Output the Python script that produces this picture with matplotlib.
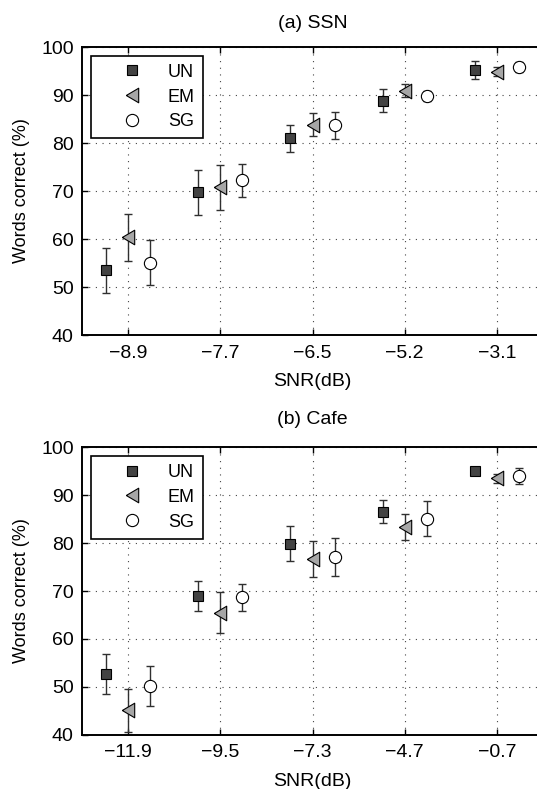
import matplotlib
matplotlib.use("Agg")
import matplotlib.pyplot as plt
import numpy as np

plt.rcParams['font.family'] = ['Liberation Sans', 'DejaVu Sans']

methods = ['UN', 'EM', 'SG']

# (a) speech-shaped noise
ssn_snr = ['\u22128.9', '\u22127.7', '\u22126.5', '\u22125.2', '\u22123.1']
ssn_un = [53.5, 69.7, 81.0, 88.8, 95.2]
ssn_un_err = [4.7, 4.7, 2.8, 2.4, 1.8]
ssn_em = [60.4, 70.8, 83.8, 90.9, 94.9]
ssn_em_err = [4.9, 4.7, 2.4, 1.4, 1.0]
ssn_sg = [55.1, 72.2, 83.7, 89.8, 95.8]
ssn_sg_err = [4.7, 3.5, 2.8, 1.0, 1.0]

# (b) cafe noise
cafe_snr = ['\u221211.9', '\u22129.5', '\u22127.3', '\u22124.7', '\u22120.7']
cafe_un = [52.7, 69.0, 79.9, 86.5, 95.1]
cafe_un_err = [4.2, 3.1, 3.6, 2.4, 0.5]
cafe_em = [45.1, 65.5, 76.7, 83.4, 93.5]
cafe_em_err = [4.5, 4.2, 3.75, 2.7, 1.0]
cafe_sg = [50.1, 68.7, 77.1, 85.1, 94.0]
cafe_sg_err = [4.2, 2.8, 3.9, 3.7, 1.6]

panels = [
    ('(a) SSN', ssn_snr, [(ssn_un, ssn_un_err), (ssn_em, ssn_em_err), (ssn_sg, ssn_sg_err)]),
    ('(b) Cafe', cafe_snr, [(cafe_un, cafe_un_err), (cafe_em, cafe_em_err), (cafe_sg, cafe_sg_err)]),
]

# left-pointing triangle, a little taller than wide
tri_left = [(-0.85, 0.0), (0.85, 1.0), (0.85, -1.0), (-0.85, 0.0)]

styles = [
    dict(marker='s', markersize=7.2, markerfacecolor='#434343', offset=-0.24),
    dict(marker=tri_left, markersize=10.5, markerfacecolor='#a6a6a6', offset=0.0),
    dict(marker='o', markersize=8.8, markerfacecolor='white', offset=0.24),
]

fig = plt.figure(figsize=(5.37, 7.89), dpi=100)
rects = [[0.1527, 0.5754, 0.8585, 0.365], [0.1527, 0.0688, 0.8585, 0.3643]]
title_pads = [13.5, 16.5]

for rect, tpad, (title, snr, series) in zip(rects, title_pads, panels):
    ax = fig.add_axes(rect)
    x = np.arange(1, len(snr) + 1)
    for name, (vals, errs), st in zip(methods, series, styles):
        ax.errorbar(x + st['offset'], vals, yerr=errs, fmt='none',
                    ecolor='#303030', elinewidth=1.0, capsize=3, capthick=1.0,
                    zorder=3)
        ax.plot(x + st['offset'], vals, linestyle='none', marker=st['marker'],
                markersize=st['markersize'], markerfacecolor=st['markerfacecolor'],
                markeredgecolor='black', markeredgewidth=0.8, label=name,
                zorder=4)
    ax.set_xlim(0.5, len(snr) + 0.5)
    ax.set_ylim(40, 100)
    ax.set_xticks(x)
    ax.set_xticklabels(snr)
    ax.set_yticks(np.arange(40, 101, 10))
    ax.tick_params(direction='in', length=4, width=1, top=True, right=False,
                   labelsize=14, pad=7, colors='black')
    ax.tick_params(axis='y', pad=6)
    for sp in ax.spines.values():
        sp.set_linewidth(1.4)
    ax.spines['right'].set_visible(False)
    ax.grid(True, linestyle=(0, (1, 5)), color='#444444', linewidth=0.8)
    ax.set_axisbelow(True)
    ax.set_title(title, fontsize=14, pad=tpad)
    ax.set_xlabel('SNR(dB)', fontsize=14)
    ax.xaxis.set_label_coords(0.5, -0.132)
    ax.set_ylabel('Words correct (%)', fontsize=13)
    ax.yaxis.set_label_coords(-0.113, 0.5)
    leg = ax.legend(loc='upper left', bbox_to_anchor=(0.02, 0.97), fontsize=13,
                    frameon=True, fancybox=False, framealpha=1,
                    edgecolor='black', handlelength=3.6, handletextpad=0.2,
                    borderpad=0.45, labelspacing=0.43, borderaxespad=0.0,
                    markerscale=1.0)
    leg.get_frame().set_linewidth(1.2)

fig.savefig('out.png', dpi=100)
